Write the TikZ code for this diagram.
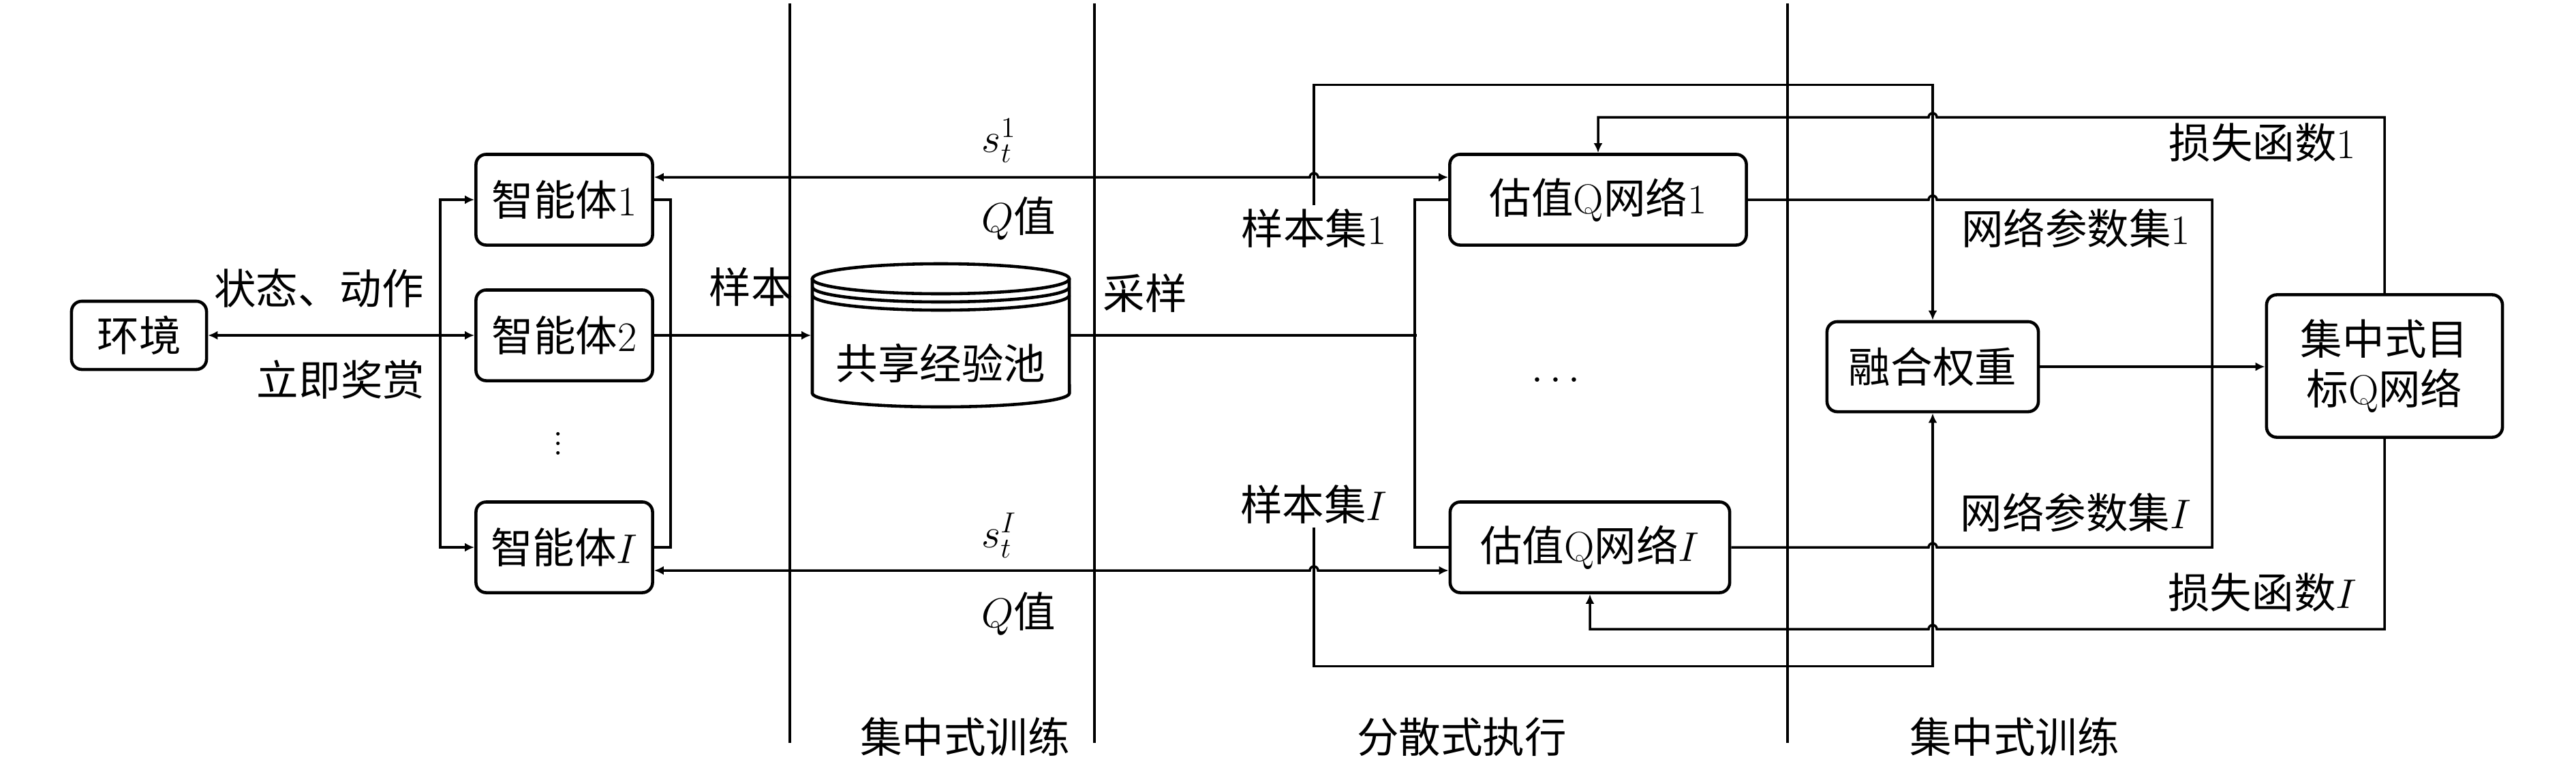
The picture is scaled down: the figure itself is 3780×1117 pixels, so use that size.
\documentclass[tikz,border=0pt]{standalone}
\usepackage{fontspec}
\usepackage{amsmath}
\usetikzlibrary{arrows.meta,positioning,calc}
\newfontfamily\cjk{Noto Sans CJK SC}
\newcommand{\zh}[1]{{\cjk #1}}

\begin{document}
\begin{tikzpicture}[x=0.01cm, y=0.01cm, line width=1pt,
    >={Latex[length=1.4mm,width=1.3mm]},
    every node/.style={font=\fontsize{17.5}{21}\selectfont},
    blk/.style={draw,rounded corners=0.15cm,line width=1.3pt,minimum height=1.33cm,align=center},
    lbl/.style={inner sep=1pt}]
  \useasboundingbox (0,0) rectangle (3780,-1117);
  % phase separators
  \draw (1159,-5) -- (1159,-1090);
  \draw (1606,-5) -- (1606,-1090);
  \draw (2623,-5) -- (2623,-1090);
  \node[lbl] (ph1) at (1416,-1081) {\zh{集中式训练}};
  \node[lbl] (ph2) at (2145,-1081) {\zh{分散式执行}};
  \node[lbl] (ph3) at (2956,-1081) {\zh{集中式训练}};

  % environment and agents
  \node[blk,minimum width=1.98cm,minimum height=1cm] (env) at (204,-492) {\zh{环境}};
  \node[blk,minimum width=2.59cm] (agent1) at (828,-293) {\zh{智能体}1};
  \node[blk,minimum width=2.59cm] (agent2) at (828,-492) {\zh{智能体}2};
  \node[blk,minimum width=2.59cm] (agentI) at (828,-803) {\zh{智能体}$I$};
  \node (adots) at (819,-640) {$\vdots$};
  \node[lbl] (sa) at (468,-423) {\zh{状态、动作}};
  \node[lbl] (rw) at (500,-557) {\zh{立即奖赏}};

  % replay pool
  \node[minimum width=3.77cm,minimum height=2.1cm,inner sep=0] (pool) at (1380.5,-492) {};
  \node (pooltxt) at (1380.5,-533) {\zh{共享经验池}};
  \draw[line width=1.3pt] (1380.5,-409) ellipse [x radius=1.885cm, y radius=0.22cm];
  \draw[line width=1.3pt] (1192,-421) arc[start angle=180,end angle=360,x radius=1.885cm,y radius=0.22cm];
  \draw[line width=1.3pt] (1192,-433) arc[start angle=180,end angle=360,x radius=1.885cm,y radius=0.22cm];
  \draw[line width=1.3pt] (1192,-409) -- (1192,-577)
    arc[start angle=180,end angle=360,x radius=1.885cm,y radius=0.2cm] -- (1569,-409);
  \node[lbl] (smp) at (1102,-421) {\zh{样本}};
  \node[lbl] (cy) at (1680,-430) {\zh{采样}};

  % estimate networks
  \node[blk,minimum width=4.35cm] (qnet1) at (2345,-293) {\zh{估值}Q\zh{网络}1};
  \node[blk,minimum width=4.10cm] (qnetI) at (2333,-803) {\zh{估值}Q\zh{网络}$I$};
  \node (qdots) at (2288,-559) {$\cdots$};
  \node[lbl] (set1) at (1928,-335) {\zh{样本集}1};
  \node[lbl] (setI) at (1928,-740) {\zh{样本集}$I$};
  \node[lbl] (s1) at (1466,-206) {$s_t^1$};
  \node[lbl] (q1) at (1495,-321) {$Q$\zh{值}};
  \node[lbl] (sI) at (1466,-786) {$s_t^I$};
  \node[lbl] (qI) at (1495,-901) {$Q$\zh{值}};

  % fusion and target network
  \node[blk,minimum width=3.1cm,minimum height=1.32cm] (fuse) at (2836,-538) {\zh{融合权重}};
  \node[blk,minimum width=3.46cm,minimum height=2.09cm] (target) at (3499,-537) {\zh{集中式目}\\\zh{标}Q\zh{网络}};
  \node[lbl] (par1) at (3046,-335) {\zh{网络参数集}1};
  \node[lbl] (parI) at (3046,-752) {\zh{网络参数集}$I$};
  \node[lbl] (loss1) at (3320,-209) {\zh{损失函数}1};
  \node[lbl] (lossI) at (3320,-869) {\zh{损失函数}$I$};

  % connectors
  \draw[<->] (env) -- (agent2);
  \draw[<->] (agent1.west) -- ++(-50,0) |- (agentI.west);
  \draw (agent1.east) -- ++(24,0) |- (agentI.east);
  \draw[->] (agent2) -- (pool.west);
  \coordinate (sbus) at (2079,-492);
  \draw (pool.east) -- (sbus);
  \draw (qnet1.west) -- ++(-49,0) |- (qnetI.west);
  \draw[<->] ($(agent1.east)+(0,33)$) -- (1922,-260) arc[start angle=180,end angle=0,radius=0.06cm] -- ($(qnet1.west)+(0,33)$);
  \draw[<->] ($(agentI.east)+(0,-34)$) -- (1922,-837) arc[start angle=180,end angle=0,radius=0.06cm] -- ($(qnetI.west)+(0,-34)$);
  \draw[->] (set1.north) |- ($(fuse.north)+(0,345)$) -- (fuse.north);
  \draw[->] (setI.south) |- ($(fuse.south)+(0,-371)$) -- (fuse.south);
  \draw[->] (target.north) |- (2842,-172) arc[start angle=0,end angle=180,radius=0.06cm] -| (qnet1.north);
  \draw[->] (target.south) |- (2842,-923) arc[start angle=0,end angle=180,radius=0.06cm] -| (qnetI.south);
  \draw (qnet1.east) -- (2830,-293) arc[start angle=180,end angle=0,radius=0.06cm] -- (3246,-293)
    |- (2842,-803) arc[start angle=0,end angle=180,radius=0.06cm] -- (qnetI.east);
  \draw[->] (fuse.east) -- (fuse.east -| target.west);
\end{tikzpicture}
\end{document}
